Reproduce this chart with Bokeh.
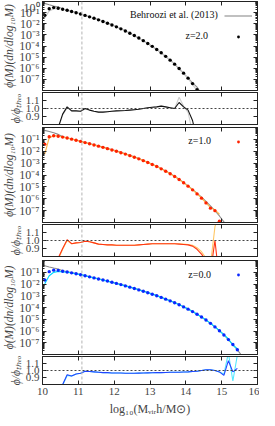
from bokeh.plotting import figure
from bokeh.layouts import column
from bokeh.models import (Range1d, LinearAxis, LogAxis, Span, FixedTicker,
                          CustomJSTickFormatter, Label, Legend, LegendItem)
from bokeh.embed import file_html
from bokeh.resources import INLINE

# ---------------- data ----------------
X_TICKS = [10, 11, 12, 13, 14, 15, 16]
RATIO_TICKS = [0.9, 1.0, 1.1]
LOG_MAJOR = [-7, -6, -5, -4, -3, -2, -1]
M_RES = 11.1  # vertical dashed line

BINS = [10.0625, 10.1875, 10.3125, 10.4375, 10.5625, 10.6875, 10.8125, 10.9375,
        11.0625, 11.1875, 11.3125, 11.4375, 11.5625, 11.6875, 11.8125, 11.9375,
        12.0625, 12.1875, 12.3125, 12.4375, 12.5625, 12.6875, 12.8125, 12.9375,
        13.0625, 13.1875, 13.3125, 13.4375, 13.5625, 13.6875, 13.8125, 13.9375,
        14.0625, 14.1875, 14.3125, 14.4375, 14.5625, 14.6875, 14.8125, 14.9375,
        15.0625, 15.1875, 15.3125, 15.4375, 15.5625]
TH_START = 10.0

# z = 2.0
LOGPHI_Z2 = [-1.23, -0.65, -0.55, -0.60, -0.69, -0.79, -0.90, -1.01, -1.13, -1.25,
             -1.38, -1.51, -1.65, -1.80, -1.95, -2.11, -2.28, -2.46, -2.65, -2.85,
             -3.06, -3.28, -3.52, -3.77, -4.03, -4.31, -4.61, -4.93, -5.27, -5.63,
             -6.02, -6.44, -6.89, -7.38, -7.92]
LOGTH_Z2 = [-0.12, -0.17, -0.29, -0.40, -0.50, -0.66, -0.80, -0.89, -1.00, -1.12,
            -1.25, -1.37, -1.50, -1.63, -1.78, -1.93, -2.09, -2.26, -2.44, -2.63,
            -2.84, -3.07, -3.30, -3.52, -3.77, -4.04, -4.32, -4.62, -4.94, -5.27,
            -5.63, -6.05, -6.45, -6.88, -7.31, -7.70, -8.30]
RATIO_Z2 = [0.07, 0.30, 0.55, 0.76, 0.93, 1.02, 0.97, 0.97, 0.965, 1.00,
            0.98, 0.965, 0.955, 0.955, 0.96, 0.965, 0.97, 0.972, 0.975, 0.98,
            0.985, 0.99, 1.00, 1.01, 1.015, 1.02, 1.03, 1.02, 1.01, 1.00,
            1.075, 1.02, 0.98, 0.85, 0.60]
RATIO_Z2_B = [0.05, 0.28, 0.53, 0.75, 0.92, 1.01, 0.97, 0.97, 0.965, 0.995,
              0.98, 0.965, 0.955, 0.955, 0.96, 0.965, 0.97, 0.972, 0.975, 0.98,
              0.985, 0.99, 1.00, 1.01, 1.015, 1.02, 1.03, 1.02, 1.01, 1.00,
              1.14, 1.03, 0.95, 0.70, 0.50]

# z = 1.0
LOGPHI_Z1 = [-1.40, -0.78, -0.70, -0.74, -0.81, -0.89, -0.98, -1.07, -1.17, -1.27,
             -1.37, -1.47, -1.57, -1.67, -1.78, -1.89, -2.00, -2.12, -2.24, -2.37,
             -2.50, -2.64, -2.79, -2.95, -3.11, -3.29, -3.48, -3.68, -3.90, -4.13,
             -4.38, -4.65, -4.94, -5.25, -5.59, -5.95, -6.35, -6.79, -7.00, -7.90]
LOGTH_Z1 = [-0.17, -0.24, -0.33, -0.45, -0.58, -0.76, -0.89, -0.96, -1.06, -1.16,
            -1.27, -1.36, -1.46, -1.55, -1.65, -1.76, -1.87, -1.97, -2.09, -2.21,
            -2.34, -2.47, -2.62, -2.77, -2.93, -3.09, -3.27, -3.46, -3.66, -3.88,
            -4.11, -4.36, -4.63, -4.92, -5.22, -5.54, -5.87, -6.23, -6.60, -7.00,
            -7.45, -7.95, -8.50]
RATIO_Z1 = [0.05, 0.35, 0.60, 0.78, 0.90, 1.01, 0.96, 0.97, 0.975, 0.99,
            0.985, 0.97, 0.955, 0.95, 0.945, 0.945, 0.94, 0.94, 0.94, 0.94,
            0.94, 0.945, 0.95, 0.955, 0.96, 0.96, 0.96, 0.96, 0.96, 0.96,
            0.955, 0.95, 0.945, 0.93, 0.89, 0.83, 0.75, 0.60, 1.00, 0.50]
RATIO_Z1_B = [0.01, 0.30, 0.55, 0.76, 0.89, 1.00, 0.96, 0.97, 0.975, 0.99,
              0.985, 0.97, 0.955, 0.95, 0.945, 0.945, 0.94, 0.94, 0.94, 0.94,
              0.94, 0.945, 0.95, 0.955, 0.96, 0.96, 0.96, 0.96, 0.96, 0.96,
              0.96, 0.955, 0.95, 0.94, 0.91, 0.86, 0.78, 0.70, 1.17, 1.40]

# z = 0.0
LOGPHI_Z0 = [-1.66, -0.95, -0.82, -0.84, -0.91, -0.98, -1.05, -1.13, -1.21, -1.30,
             -1.39, -1.48, -1.57, -1.66, -1.75, -1.85, -1.95, -2.05, -2.16, -2.27,
             -2.38, -2.50, -2.62, -2.74, -2.87, -3.00, -3.14, -3.29, -3.44, -3.60,
             -3.77, -3.95, -4.14, -4.35, -4.57, -4.81, -5.07, -5.35, -5.65, -5.98,
             -6.34, -6.73, -7.15, -7.60]
LOGTH_Z0 = [-0.40, -0.45, -0.55, -0.64, -0.72, -0.87, -0.96, -1.03, -1.11, -1.19,
            -1.29, -1.38, -1.47, -1.56, -1.65, -1.74, -1.84, -1.94, -2.04, -2.14,
            -2.25, -2.36, -2.48, -2.60, -2.72, -2.85, -2.98, -3.12, -3.27, -3.42,
            -3.58, -3.75, -3.93, -4.13, -4.34, -4.57, -4.81, -5.07, -5.35, -5.65,
            -5.97, -6.31, -6.76, -7.14, -7.60, -8.10]
RATIO_Z0 = [0.04, 0.20, 0.45, 0.65, 0.80, 0.94, 0.92, 0.95, 0.96, 0.99,
            0.985, 0.98, 0.975, 0.97, 0.97, 0.965, 0.965, 0.965, 0.96, 0.96,
            0.96, 0.962, 0.964, 0.966, 0.968, 0.97, 0.97, 0.972, 0.974, 0.975,
            0.976, 0.978, 0.98, 0.985, 0.99, 1.00, 1.01, 1.01, 1.00, 0.98,
            0.93, 1.14, 0.98, 1.03]
RATIO_Z0_B = [0.03, 0.18, 0.43, 0.63, 0.79, 0.93, 0.92, 0.95, 0.96, 0.99,
              0.985, 0.98, 0.975, 0.97, 0.97, 0.965, 0.965, 0.965, 0.96, 0.96,
              0.96, 0.962, 0.964, 0.966, 0.968, 0.97, 0.97, 0.972, 0.974, 0.975,
              0.976, 0.978, 0.98, 0.985, 0.99, 1.00, 1.01, 1.01, 1.00, 0.98,
              0.95, 1.25, 0.85, 1.22]

PANELS = [
    dict(z="z=2.0", dots=LOGPHI_Z2, th=LOGTH_Z2, r=RATIO_Z2, rb=RATIO_Z2_B,
         dot_col="#000000", light_col="#cccccc", r_col="#111111", rb_col="#cfcfcf",
         z_pos=(14.62, -3.06)),
    dict(z="z=1.0", dots=LOGPHI_Z1, th=LOGTH_Z1, r=RATIO_Z1, rb=RATIO_Z1_B,
         dot_col="#ff2200", light_col="#ffb84d", r_col="#ff3311", rb_col="#ffc766",
         z_pos=(14.70, -1.09)),
    dict(z="z=0.0", dots=LOGPHI_Z0, th=LOGTH_Z0, r=RATIO_Z0, rb=RATIO_Z0_B,
         dot_col="#0a28ff", light_col="#00d8ff", r_col="#2244ff", rb_col="#55e8ff",
         z_pos=(14.70, -1.17)),
]
REF_LABEL = "Behroozi et al. (2013)"
REF_POS = (14.89, -1.17)

# ---------------- styling helpers ----------------
SERIF = "Liberation Serif"
AX = "#222222"
x_range = Range1d(10, 16)

SUP_JS = """
const sup = {'-':'\u207b','0':'\u2070','1':'\u00b9','2':'\u00b2','3':'\u00b3','4':'\u2074',
             '5':'\u2075','6':'\u2076','7':'\u2077','8':'\u2078','9':'\u2079'};
const e = Math.round(Math.log10(tick));
return '10' + String(e).split('').map(c => sup[c]).join('');
"""


def style_axis(ax, labels=True, size="11px"):
    ax.major_tick_in = 4
    ax.major_tick_out = 0
    ax.minor_tick_in = 2
    ax.minor_tick_out = 0
    ax.axis_line_color = AX
    ax.major_tick_line_color = AX
    ax.minor_tick_line_color = AX
    ax.major_label_text_font = SERIF
    ax.axis_label_text_font = SERIF
    ax.axis_label_text_font_style = "normal"
    ax.axis_label_standoff = 2
    if labels:
        ax.major_label_text_font_size = size
        ax.major_label_standoff = 3
    else:
        ax.major_label_text_font_size = "1px"
        ax.major_label_standoff = 0
        ax.formatter = CustomJSTickFormatter(code="return '';")


def x_ticker():
    return FixedTicker(ticks=X_TICKS, minor_ticks=[])


def base_fig(h, y_range, log, b_top, b_bottom):
    p = figure(width=259, height=h, x_range=x_range, y_range=y_range,
               y_axis_type="log" if log else "linear",
               output_backend="svg", toolbar_location=None,
               min_border_left=40, min_border_right=2,
               min_border_top=b_top, min_border_bottom=b_bottom)
    p.xgrid.visible = False
    p.ygrid.visible = False
    p.outline_line_color = AX
    p.add_layout(Span(location=M_RES, dimension="height", line_color="#b4b4b4",
                      line_dash="3 2", line_width=1))
    return p


def log_ticker(with_top):
    majors = [10.0 ** e for e in LOG_MAJOR] + ([1.0] if with_top else [])
    minors = [m * 10.0 ** e for e in range(-8, 0) for m in range(2, 10)]
    return FixedTicker(ticks=majors, minor_ticks=minors)


def text_label(x, logy, text):
    return Label(x=x, y=10 ** logy, text=text, text_align="right",
                 text_baseline="middle", text_font=SERIF, text_font_size="10px",
                 text_color="#111111")


figs = []
main_h = [91, 97, 96]
main_bt = [(1, 1), (1, 1), (1, 1)]
ratio_h = [35, 36, 63]
ratio_bt = [(1, 2), (1, 3), (1, 30)]

for i, P in enumerate(PANELS):
    # ---- main panel
    p = base_fig(main_h[i], Range1d(1e-8, 1.0), True, *main_bt[i])
    for ax in p.xaxis:
        ax.ticker = x_ticker()
        style_axis(ax, labels=False)
    top_ax = LinearAxis(ticker=x_ticker())
    style_axis(top_ax, labels=False)
    p.add_layout(top_ax, "above")
    yl = p.yaxis[0]
    yl.ticker = log_ticker(i == 0)
    style_axis(yl, size="12px")
    yl.formatter = CustomJSTickFormatter(code=SUP_JS)
    yl.major_label_standoff = 3
    yl.axis_label = "\u03d5(M)(dn/dlog\u2081\u2080M)"
    yl.axis_label_text_font_size = "11.5px"
    yl.axis_label_text_font_style = "italic"
    yl.axis_label_standoff = 1
    ry = LogAxis(ticker=log_ticker(False))
    style_axis(ry, labels=False)
    p.add_layout(ry, "right")

    n = len(P["dots"])
    th_x = [TH_START] + BINS[:len(P["th"]) - 1]
    th_y = [10.0 ** v for v in P["th"]]
    light_y = [th_y[k + 1] * P["rb"][k] for k in range(len(P["rb"]))]
    r_th = p.line(th_x, th_y, line_color="#8c8c8c", line_width=1.1)
    p.line(BINS[:len(P["rb"])], light_y, line_color=P["light_col"], line_width=1.2)
    r_dot = p.scatter(BINS[:n], [10.0 ** v for v in P["dots"]], size=3.4,
                      fill_color=P["dot_col"], line_color=None)

    items = []
    if i == 0:
        items.append(LegendItem(label=" ", renderers=[r_th]))
        p.add_layout(text_label(REF_POS[0], REF_POS[1], REF_LABEL))
    items.append(LegendItem(label=" ", renderers=[r_dot]))
    p.add_layout(text_label(P["z_pos"][0], P["z_pos"][1], P["z"]))
    leg = Legend(items=items, location="top_right", border_line_alpha=0,
                 background_fill_alpha=0, glyph_width=28, glyph_height=7,
                 label_height=20, label_width=1, spacing=1, padding=0, margin=4,
                 label_standoff=0, label_text_font=SERIF, label_text_font_size="10px")
    p.add_layout(leg)
    figs.append(p)

    # ---- ratio panel
    q = base_fig(ratio_h[i], Range1d(0.8, 1.2), False, *ratio_bt[i])
    last = (i == 2)
    for ax in q.xaxis:
        ax.ticker = x_ticker()
        style_axis(ax, labels=last)
        if last:
            ax.major_label_text_font_size = "11px"
            ax.major_label_standoff = 3
            ax.axis_label = "log\u2081\u2080(M\u1d65\u1d62\u1d63h/M\u2299)"
            ax.axis_label_text_font_size = "12px"
            ax.axis_label_standoff = 4
    top_ax = LinearAxis(ticker=x_ticker())
    style_axis(top_ax, labels=False)
    q.add_layout(top_ax, "above")
    ql = q.yaxis[0]
    ql.ticker = FixedTicker(ticks=RATIO_TICKS, minor_ticks=[])
    style_axis(ql, size="11px")
    ql.formatter = CustomJSTickFormatter(code="return tick.toFixed(1);")
    ql.axis_label = "\u03d5/\u03d5\u209c\u2095\u2091\u2092"
    ql.axis_label_text_font_size = "11.5px"
    ql.axis_label_text_font_style = "italic"
    ql.axis_label_standoff = 1
    qr = LinearAxis(ticker=FixedTicker(ticks=RATIO_TICKS, minor_ticks=[]))
    style_axis(qr, labels=False)
    q.add_layout(qr, "right")
    q.add_layout(Span(location=1.0, dimension="width", line_color="#444444",
                      line_dash="2 2", line_width=1))
    q.line(BINS[:len(P["rb"])], P["rb"], line_color=P["rb_col"], line_width=1.1)
    q.line(BINS[:len(P["r"])], P["r"], line_color=P["r_col"], line_width=1.1)
    figs.append(q)

layout = column(*figs, spacing=0)
open("out.html", "w").write(file_html(layout, INLINE))
